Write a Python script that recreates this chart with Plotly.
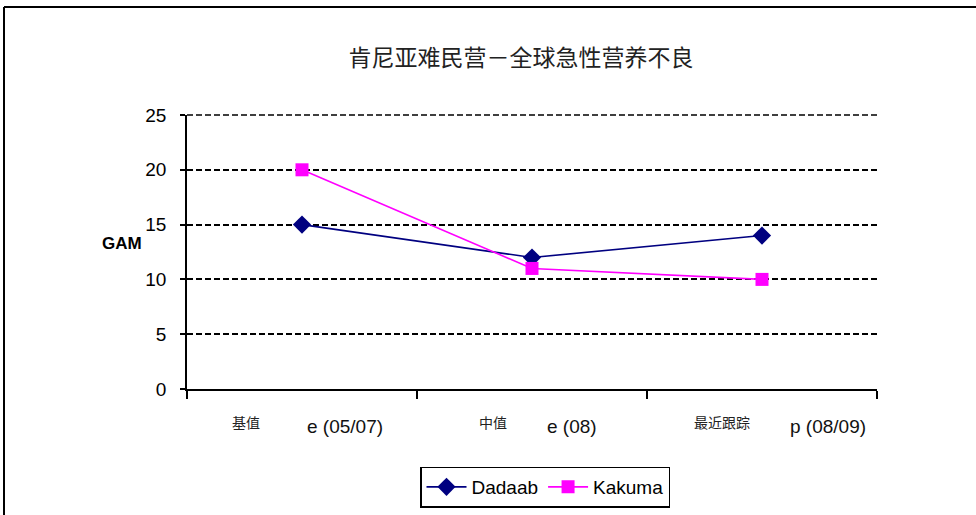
import plotly.graph_objects as go

categories = ["基值", "中值", "最近跟踪"]
label_suffix = ["e (05/07)", "e (08)", "p (08/09)"]
dadaab = [15, 12, 14]
kakuma = [20, 11, 10]
yticks = [0, 5, 10, 15, 20, 25]

W, H = 976, 515
L, T = 187, 115
pw, ph = 690, 274
R, B = W - L - pw, H - T - ph

def px_x(x):
    return (x - L) / pw

def px_y(y):
    return (T + ph - y) / ph

fig = go.Figure()
fig.add_trace(go.Scatter(
    x=categories, y=dadaab, name="Dadaab", mode="lines+markers",
    line=dict(color="#000080", width=1.6),
    marker=dict(symbol="diamond", size=14, color="#000080"),
))
fig.add_trace(go.Scatter(
    x=categories, y=kakuma, name="Kakuma", mode="lines+markers",
    line=dict(color="#FF00FF", width=1.6),
    marker=dict(symbol="square", size=13, color="#FF00FF"),
))

zh_shift = [-56, -39, -40]
en_shift = [3, 13, 26]
annotations = []
for i, c in enumerate(categories):
    annotations.append(dict(
        x=c, xref="x", y=px_y(422), yref="paper", text=c, showarrow=False,
        xshift=zh_shift[i], yanchor="middle",
        font=dict(family="Noto Sans CJK SC", size=14, color="#222"),
    ))
    annotations.append(dict(
        x=c, xref="x", y=px_y(426), yref="paper", text=label_suffix[i], showarrow=False,
        xshift=en_shift[i], xanchor="left", yanchor="middle",
        font=dict(family="Liberation Sans Narrow, Liberation Sans", size=19, color="#111"),
    ))
annotations.append(dict(
    x=px_x(100), xref="paper", y=px_y(243), yref="paper", text="<b>GAM</b>",
    showarrow=False, font=dict(family="Liberation Sans", size=17, color="#000"),
))

shapes = [
    dict(type="line", xref="paper", yref="paper", x0=px_x(4), x1=px_x(990),
         y0=px_y(7), y1=px_y(7), line=dict(color="#000", width=2)),
    dict(type="line", xref="paper", yref="paper", x0=px_x(4), x1=px_x(4),
         y0=px_y(7), y1=px_y(530), line=dict(color="#000", width=2)),
    # top gridline (at the upper end of the y range)
    dict(type="line", xref="paper", yref="paper", x0=0, x1=1, y0=1, y1=1,
         line=dict(color="#000", width=1.5, dash="6px,3px"), layer="below"),
]

fig.update_layout(
    width=W, height=H,
    margin=dict(l=L, r=R, t=T, b=B, autoexpand=False),
    paper_bgcolor="white", plot_bgcolor="white",
    title=dict(text="肯尼亚难民营－全球急性营养不良", x=521 / W, xanchor="center",
               y=1 - 58 / H, yanchor="middle", yref="container",
               font=dict(family="Noto Sans CJK SC", size=23, color="#222")),
    showlegend=True,
    legend=dict(orientation="h", x=px_x(545), xanchor="center", y=px_y(487), yanchor="middle",
                bordercolor="#000", borderwidth=1.5, bgcolor="white",
                font=dict(family="Liberation Sans", size=19, color="#000"),
                itemwidth=40),
    annotations=annotations,
    shapes=shapes,
)
fig.update_xaxes(
    type="category", range=[-0.5, 2.5], tickson="boundaries",
    ticks="outside", ticklen=8, tickcolor="#000", tickwidth=1.5,
    showticklabels=False, showgrid=False, zeroline=False,
    showline=True, linecolor="#000", linewidth=1.5,
)
fig.update_yaxes(
    range=[0, 25], tickvals=yticks, ticks="outside", ticklen=5, tickcolor="#000", tickwidth=1.5,
    showgrid=True, gridcolor="#000", griddash="6px,3px", gridwidth=1.5,
    zeroline=False, showline=True, linecolor="#000", linewidth=1.5,
    ticklabelstandoff=10,
    tickfont=dict(family="Liberation Sans", size=19, color="#000"),
)
fig.write_html("out.html", config={"displayModeBar": False},
               post_script="document.body.style.margin='0';")
